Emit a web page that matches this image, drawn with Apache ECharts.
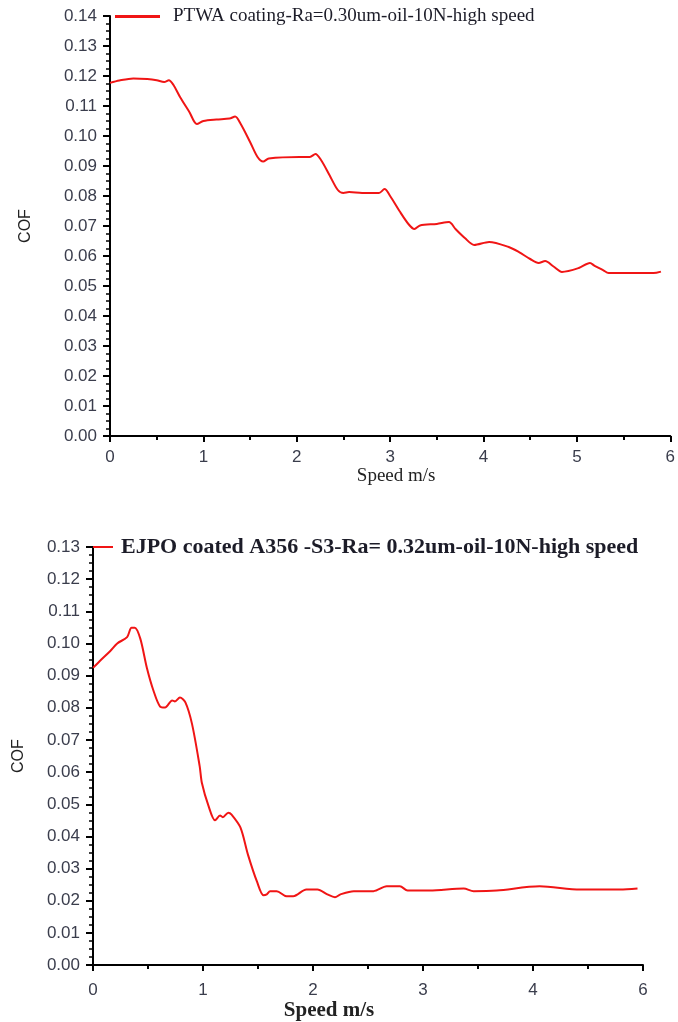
<!DOCTYPE html>
<html>
<head>
<meta charset="utf-8">
<script src="https://cdn.jsdelivr.net/npm/echarts@6/dist/echarts.min.js"></script>
<style>
html,body{margin:0;padding:0;background:#fff;}
#chart{width:678px;height:1022px;}
</style>
</head>
<body>
<div id="chart"></div>
<script>
// top panel: PTWA coating
var topName = 'PTWA coating-Ra=0.30um-oil-10N-high speed';
var topSpeed = [0,0.1,0.25,0.4,0.5,0.58,0.63,0.68,0.75,0.85,0.93,1.0,1.14,1.28,1.34,1.4,1.5,1.58,1.64,1.7,2.03,2.14,2.2,2.26,2.35,2.44,2.5,2.56,2.7,2.88,2.94,3.0,3.1,3.2,3.26,3.32,3.5,3.63,3.7,3.8,3.9,4.06,4.27,4.38,4.5,4.59,4.66,4.75,4.84,5.02,5.14,5.19,5.28,5.34,5.6,5.82,5.9];
var topCof = [0.1177,0.1185,0.1192,0.119,0.1186,0.118,0.1186,0.117,0.113,0.108,0.104,0.105,0.1055,0.1058,0.1065,0.104,0.098,0.093,0.0915,0.0925,0.093,0.093,0.094,0.092,0.087,0.082,0.081,0.0813,0.081,0.081,0.0823,0.08,0.075,0.0705,0.069,0.0702,0.0707,0.0713,0.069,0.066,0.0637,0.0647,0.063,0.0613,0.059,0.0577,0.0583,0.0565,0.0547,0.056,0.0577,0.0567,0.0553,0.0543,0.0543,0.0543,0.0548];
var topXTicks = ['0','1','2','3','4','5','6'];

// bottom panel: EJPO coated A356
var botName = 'EJPO coated A356 -S3-Ra= 0.32um-oil-10N-high speed';
var botSpeed = [0,0.06,0.155,0.22,0.31,0.35,0.38,0.43,0.49,0.55,0.61,0.655,0.72,0.745,0.79,0.84,0.9,0.97,0.99,1.05,1.11,1.155,1.18,1.23,1.26,1.34,1.41,1.49,1.55,1.58,1.61,1.67,1.76,1.82,1.94,2.04,2.13,2.2,2.25,2.37,2.55,2.67,2.79,2.86,3.06,3.37,3.46,3.67,4.06,4.43,4.79,4.95];
var botCof = [0.0924,0.0945,0.0976,0.1,0.102,0.1049,0.1049,0.1015,0.0924,0.0853,0.0804,0.0801,0.0823,0.082,0.0832,0.0817,0.075,0.0618,0.0566,0.0495,0.045,0.0465,0.046,0.0474,0.0468,0.0428,0.0342,0.026,0.0217,0.022,0.023,0.023,0.0214,0.0214,0.0235,0.0235,0.022,0.0211,0.022,0.023,0.023,0.0245,0.0245,0.0232,0.0232,0.0238,0.023,0.0232,0.0245,0.0235,0.0235,0.0238];
var botXTicks = ['0','1','2','3','4','6'];

function pairs(xs, ys){
	var out = [];
	for(var i=0;i<xs.length;i++) out.push([xs[i], ys[i]]);
	return out;
}

function yAxisCfg(gridIndex, max, gap){
	return {
		type:'value', gridIndex:gridIndex, min:0, max:max, interval:0.01,
		name:'COF', nameLocation:'middle', nameGap:gap,
		nameTextStyle:{fontFamily:'Liberation Sans', fontSize:16, color:'#222'},
		axisLine:{show:true, lineStyle:{color:'#000',width:2}},
		axisTick:{show:true, inside:false, length:7, lineStyle:{color:'#000',width:2}},
		minorTick:{show:true, splitNumber:4, length:4, lineStyle:{color:'#000',width:1.5}},
		splitLine:{show:false},
		axisLabel:{fontFamily:'Liberation Sans', fontSize:17, color:'#3a3d4c', margin:13,
			formatter:function(v){return v.toFixed(2);}}
	};
}
function xAxisCfg(gridIndex, max, ticks, name){
	return {
		type:'value', gridIndex:gridIndex, min:0, max:max, interval:1,
		name:'Speed m/s', nameLocation:'middle', nameGap:name.gap,
		nameTextStyle:{fontFamily:'Liberation Serif', fontSize:name.size, fontWeight:name.weight, color:'#222', padding:name.pad},
		axisLine:{show:true, onZero:false, lineStyle:{color:'#000',width:2}},
		axisTick:{show:true, length:6, lineStyle:{color:'#000',width:2}},
		minorTick:{show:true, splitNumber:2, length:4, lineStyle:{color:'#000',width:2}},
		splitLine:{show:false},
		axisLabel:{fontFamily:'Liberation Sans', fontSize:17, color:'#3a3d4c', margin:name.labelMargin,
			formatter:function(v){return ticks[Math.round(v)];}}
	};
}

var chart = echarts.init(document.getElementById('chart'));
chart.setOption({
	animation:false,
	backgroundColor:'#fff',
	grid:[
		{left:110, right:6, top:16, bottom:586},
		{left:93, right:35, top:547, bottom:50}
	],
	legend:[
		{data:[topName], left:115, top:7, padding:0, icon:'rect', itemWidth:45, itemHeight:3,
			textStyle:{fontFamily:'Liberation Serif', fontSize:19, color:'#1c1c28', padding:[0,0,0,8]}},
		{data:[botName], left:93, top:536, padding:0, icon:'rect', itemWidth:20, itemHeight:2,
			textStyle:{fontFamily:'Liberation Serif', fontSize:22, fontWeight:'bold', color:'#1c1c28', padding:[0,0,0,3]}}
	],
	xAxis:[
		xAxisCfg(0, 6, topXTicks, {gap:31, size:19, weight:'normal', pad:[0,0,0,12], labelMargin:13}),
		xAxisCfg(1, 5, botXTicks, {gap:32, size:21, weight:'bold', pad:[0,78,0,0], labelMargin:17})
	],
	yAxis:[
		yAxisCfg(0, 0.14, 76),
		yAxisCfg(1, 0.13, 66)
	],
	series:[
		{name:topName, type:'line', xAxisIndex:0, yAxisIndex:0, data:pairs(topSpeed, topCof),
			smooth:0.3, showSymbol:false, lineStyle:{color:'#f01515', width:2}, itemStyle:{color:'#f01515'}},
		{name:botName, type:'line', xAxisIndex:1, yAxisIndex:1, data:pairs(botSpeed, botCof),
			smooth:0.3, showSymbol:false, lineStyle:{color:'#f01515', width:2}, itemStyle:{color:'#f01515'}}
	]
});
</script>
</body>
</html>
